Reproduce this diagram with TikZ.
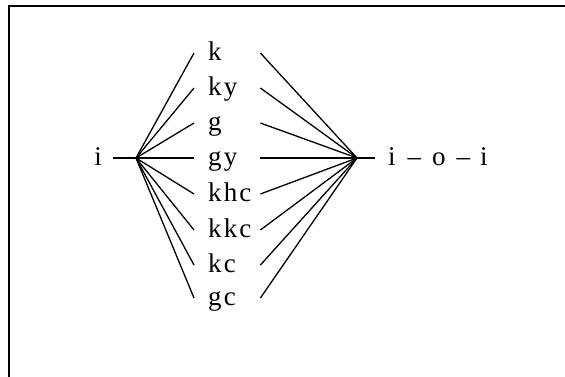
\documentclass[tikz,border=0pt]{standalone}
\usepackage{fontspec}
\setmainfont{Liberation Serif}[LetterSpace=8]
\begin{document}
\begin{tikzpicture}[x=1pt,y=-1pt,
  lbl/.style={font=\fontsize{27}{27}\selectfont, text height=15pt, text depth=0pt, inner ysep=0pt},
  col/.style={lbl, anchor=west, inner xsep=14pt, text width=38pt, align=left},
  conn/.style={line width=1.3pt},
  frame/.style={line width=1.6pt}]
\useasboundingbox (0,0) rectangle (565,377);
% frame
\coordinate (f1) at (9,377);
\coordinate (f2) at (9,6);
\coordinate (f3) at (565,6);
\draw[frame] (f1) -- (f2) -- (f3);
% hubs
\coordinate (L) at (136,158);
\coordinate (R) at (357,158);
% left and right texts
\node[lbl, anchor=east, inner xsep=11pt] (i0) at (113,158) {i};
\node[lbl, anchor=west, inner xsep=13pt] (ioi) at (375,158) {i\hspace{12pt}--\hspace{11pt}o\hspace{11pt}--\hspace{10pt}i};
% column
\node[col] (n1) at (194,53) {k};
\node[col] (n2) at (194,88) {ky};
\node[col] (n3) at (194,123) {g};
\node[col] (n4) at (194,158) {gy};
\node[col] (n5) at (194,194) {khc};
\node[col] (n6) at (194,230) {kkc};
\node[col] (n7) at (194,265) {kc};
\node[col] (n8) at (194,298) {gc};
\draw[conn] (i0.east) -- (L);
\draw[conn] (R) -- (ioi.west);
\foreach \n in {n1,n2,n3,n4,n5,n6,n7,n8}{
  \draw[conn] (L) -- (\n.west);
  \draw[conn] (\n.east) -- (R);
}
\end{tikzpicture}
\end{document}
